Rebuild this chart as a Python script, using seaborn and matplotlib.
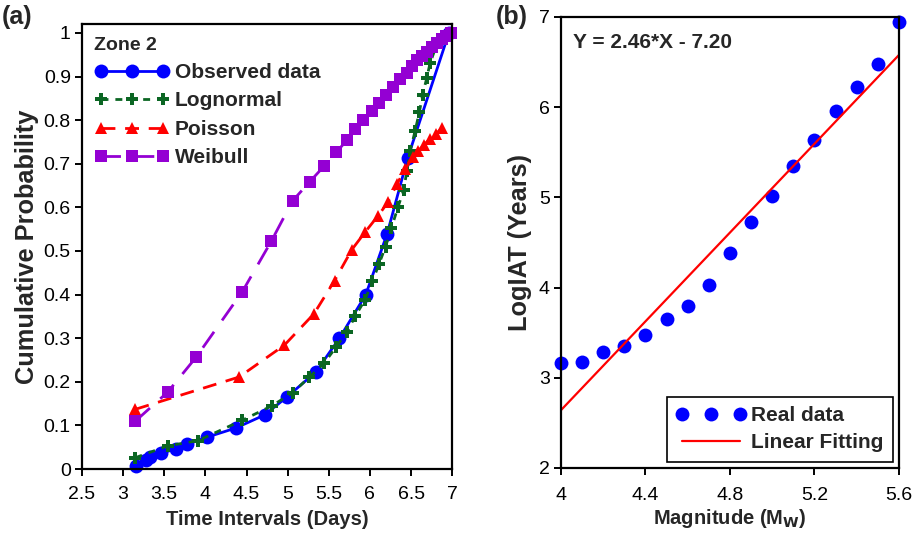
import matplotlib
matplotlib.use("Agg")
import matplotlib.pyplot as plt
import seaborn as sns
import numpy as np
import pandas as pd

# ---------------- data: panel (a) ----------------
obs_x = [3.16, 3.28, 3.33, 3.46, 3.64, 3.78, 4.02, 4.37, 4.72, 4.99, 5.34, 5.63, 5.95, 6.21, 6.46, 6.96]
obs_y = [0.008, 0.02, 0.027, 0.036, 0.046, 0.057, 0.073, 0.094, 0.124, 0.165, 0.222, 0.30, 0.40, 0.54, 0.714, 1.0]

logn_x = [3.15, 3.54, 3.91, 4.45, 4.81, 5.06, 5.26, 5.44, 5.59, 5.72, 5.82, 5.94, 6.03, 6.11, 6.19,
          6.26, 6.34, 6.41, 6.45, 6.49, 6.55, 6.60, 6.64, 6.69, 6.73, 6.80, 6.87, 6.95]
logn_y = [0.026, 0.053, 0.065, 0.112, 0.145, 0.175, 0.21, 0.242, 0.28, 0.314, 0.35, 0.388, 0.43, 0.47, 0.51,
          0.552, 0.60, 0.64, 0.684, 0.73, 0.776, 0.818, 0.858, 0.896, 0.93, 0.967, 0.99, 1.0]

pois_x = [3.15, 4.41, 4.96, 5.32, 5.57, 5.78, 5.94, 6.10, 6.22, 6.33, 6.43, 6.52, 6.59, 6.66, 6.73, 6.80, 6.88]
pois_y = [0.137, 0.211, 0.284, 0.356, 0.432, 0.503, 0.543, 0.581, 0.612, 0.654, 0.688, 0.715, 0.73, 0.744,
          0.757, 0.768, 0.783]

weib_x = [3.15, 3.54, 3.89, 4.45, 4.80, 5.06, 5.27, 5.44, 5.59, 5.72, 5.82, 5.92, 6.03, 6.11, 6.20, 6.28,
          6.37, 6.45, 6.51, 6.57, 6.63, 6.69, 6.75, 6.81, 6.87, 6.93, 6.98]
weib_y = [0.11, 0.176, 0.257, 0.407, 0.522, 0.615, 0.659, 0.694, 0.726, 0.754, 0.78, 0.80, 0.82, 0.84, 0.858,
          0.876, 0.894, 0.909, 0.924, 0.937, 0.947, 0.957, 0.967, 0.976, 0.986, 0.993, 1.0]

a_xticks = [2.5, 3, 3.5, 4, 4.5, 5, 5.5, 6, 6.5, 7]
a_xticklabels = ["2.5", "3", "3.5", "4", "4.5", "5", "5.5", "6", "6.5", "7"]
a_yticks = [0, 0.1, 0.2, 0.3, 0.4, 0.5, 0.6, 0.7, 0.8, 0.9, 1]
a_yticklabels = ["0", "0.1", "0.2", "0.3", "0.4", "0.5", "0.6", "0.7", "0.8", "0.9", "1"]

# ---------------- data: panel (b) ----------------
mag_x = [4.0, 4.1, 4.2, 4.3, 4.4, 4.5, 4.6, 4.7, 4.8, 4.9, 5.0, 5.1, 5.2, 5.3, 5.4, 5.5, 5.6]
logiat_y = [3.16, 3.17, 3.28, 3.35, 3.47, 3.65, 3.79, 4.03, 4.38, 4.73, 5.01, 5.35, 5.64, 5.96, 6.22, 6.48, 6.94]
fit_slope = 2.46
fit_intercept = -7.20
fit_x = [4.0, 5.6]

b_xticks = [4, 4.4, 4.8, 5.2, 5.6]
b_xticklabels = ["4", "4.4", "4.8", "5.2", "5.6"]
b_yticks = [2, 3, 4, 5, 6, 7]
b_yticklabels = ["2", "3", "4", "5", "6", "7"]

# ---------------- styling ----------------
sns.set_theme(style="ticks")
plt.rcParams['font.family'] = ['Liberation Sans', 'DejaVu Sans']
plt.rcParams['axes.linewidth'] = 1.6
plt.rcParams['xtick.major.width'] = 1.4
plt.rcParams['ytick.major.width'] = 1.4

TICK_FS = 14
LEG_FS = 15
YLAB_FS = 18.3
fig = plt.figure(figsize=(9.21, 5.34), dpi=100)
axA = fig.add_axes([0.089, 0.1217, 0.402, 0.833])
axB = fig.add_axes([0.609, 0.1236, 0.367, 0.845])

BLUE = "#0000FF"
GREEN = "#0B6623"
RED = "#FF0000"
PURPLE = "#9400D3"

sns.lineplot(x=obs_x, y=obs_y, ax=axA, color=BLUE, marker='o', markersize=10, markeredgewidth=0,
             linewidth=2, label="Observed data", errorbar=None, sort=False)
sns.lineplot(x=logn_x, y=logn_y, ax=axA, color=GREEN, marker='P', markersize=9, markeredgewidth=0,
             linewidth=2, linestyle=(0, (2.5, 2.5)), label="Lognormal", errorbar=None, sort=False)
sns.lineplot(x=pois_x, y=pois_y, ax=axA, color=RED, marker='^', markersize=9, markeredgewidth=0,
             linewidth=2, linestyle=(0, (5, 3.5)), label="Poisson", errorbar=None, sort=False)
sns.lineplot(x=weib_x, y=weib_y, ax=axA, color=PURPLE, marker='s', markersize=8.5, markeredgewidth=0,
             linewidth=2, linestyle=(0, (7, 5)), label="Weibull", errorbar=None, sort=False)
for ln in axA.get_lines():
    ln.set_clip_on(False)

axA.set_xlim(2.5, 7)
axA.set_ylim(0, 1.02)
axA.set_xticks(a_xticks)
axA.set_xticklabels(a_xticklabels)
axA.set_yticks(a_yticks)
axA.set_yticklabels(a_yticklabels)
axA.tick_params(axis='both', labelsize=TICK_FS, direction='out', length=5, colors='black', pad=3)
axA.tick_params(axis='x', pad=7)
axA.set_xlabel("Time Intervals (Days)", fontsize=14.5, fontweight='bold', labelpad=5)
axA.set_ylabel("Cumulative Probability", fontsize=YLAB_FS, fontweight='bold', labelpad=3)
for s in axA.spines.values():
    s.set_visible(True)
    s.set_color('black')

legA = axA.legend(loc='upper left', frameon=False, title="Zone 2", numpoints=3, handlelength=3.6,
                  prop={'weight': 'bold', 'size': LEG_FS}, labelspacing=0.45, borderaxespad=0.25,
                  handletextpad=0.25, borderpad=0.35)
legA.get_title().set_fontweight('bold')
legA.get_title().set_fontsize(14)
legA._legend_box.align = "left"

# panel (b)
sns.lineplot(x=mag_x, y=logiat_y, ax=axB, color=BLUE, marker='o', markersize=10, markeredgewidth=0,
             linestyle='', label="Real data", errorbar=None, sort=False)
fit_y = [fit_slope * v + fit_intercept for v in fit_x]
sns.lineplot(x=fit_x, y=fit_y, ax=axB, color=RED, linewidth=1.6, label="Linear Fitting", errorbar=None)
axB.get_lines()[0].set_clip_on(False)

axB.set_xlim(4, 5.6)
axB.set_ylim(2, 7)
axB.set_xticks(b_xticks)
axB.set_xticklabels(b_xticklabels)
axB.set_yticks(b_yticks)
axB.set_yticklabels(b_yticklabels)
axB.tick_params(axis='both', labelsize=TICK_FS, direction='out', length=5, colors='black', pad=3)
axB.tick_params(axis='x', pad=9)
axB.set_xlabel("Magnitude (M$_\\mathbf{W}$)", fontsize=14.5, fontweight='bold', labelpad=2)
axB.set_ylabel("LogIAT (Years)", fontsize=YLAB_FS, fontweight='bold', labelpad=5)
for s in axB.spines.values():
    s.set_visible(True)
    s.set_color('black')

legB = axB.legend(loc='lower right', frameon=True, fancybox=False, numpoints=3, handlelength=3.4,
                  prop={'weight': 'bold', 'size': LEG_FS}, labelspacing=0.4, borderaxespad=0.3,
                  handletextpad=0.2, borderpad=0.45)
legB.get_frame().set_edgecolor('black')
legB.get_frame().set_linewidth(1.2)
legB.get_frame().set_alpha(1)

axB.text(0.035, 0.965, "Y = 2.46*X - 7.20", transform=axB.transAxes, fontsize=LEG_FS, fontweight='bold',
         va='top', ha='left')

fig.text(0.002, 0.99, "(a)", fontsize=18, fontweight='bold', va='top', ha='left')
fig.text(0.538, 0.99, "(b)", fontsize=18, fontweight='bold', va='top', ha='left')

fig.savefig("out.png", dpi=100)
